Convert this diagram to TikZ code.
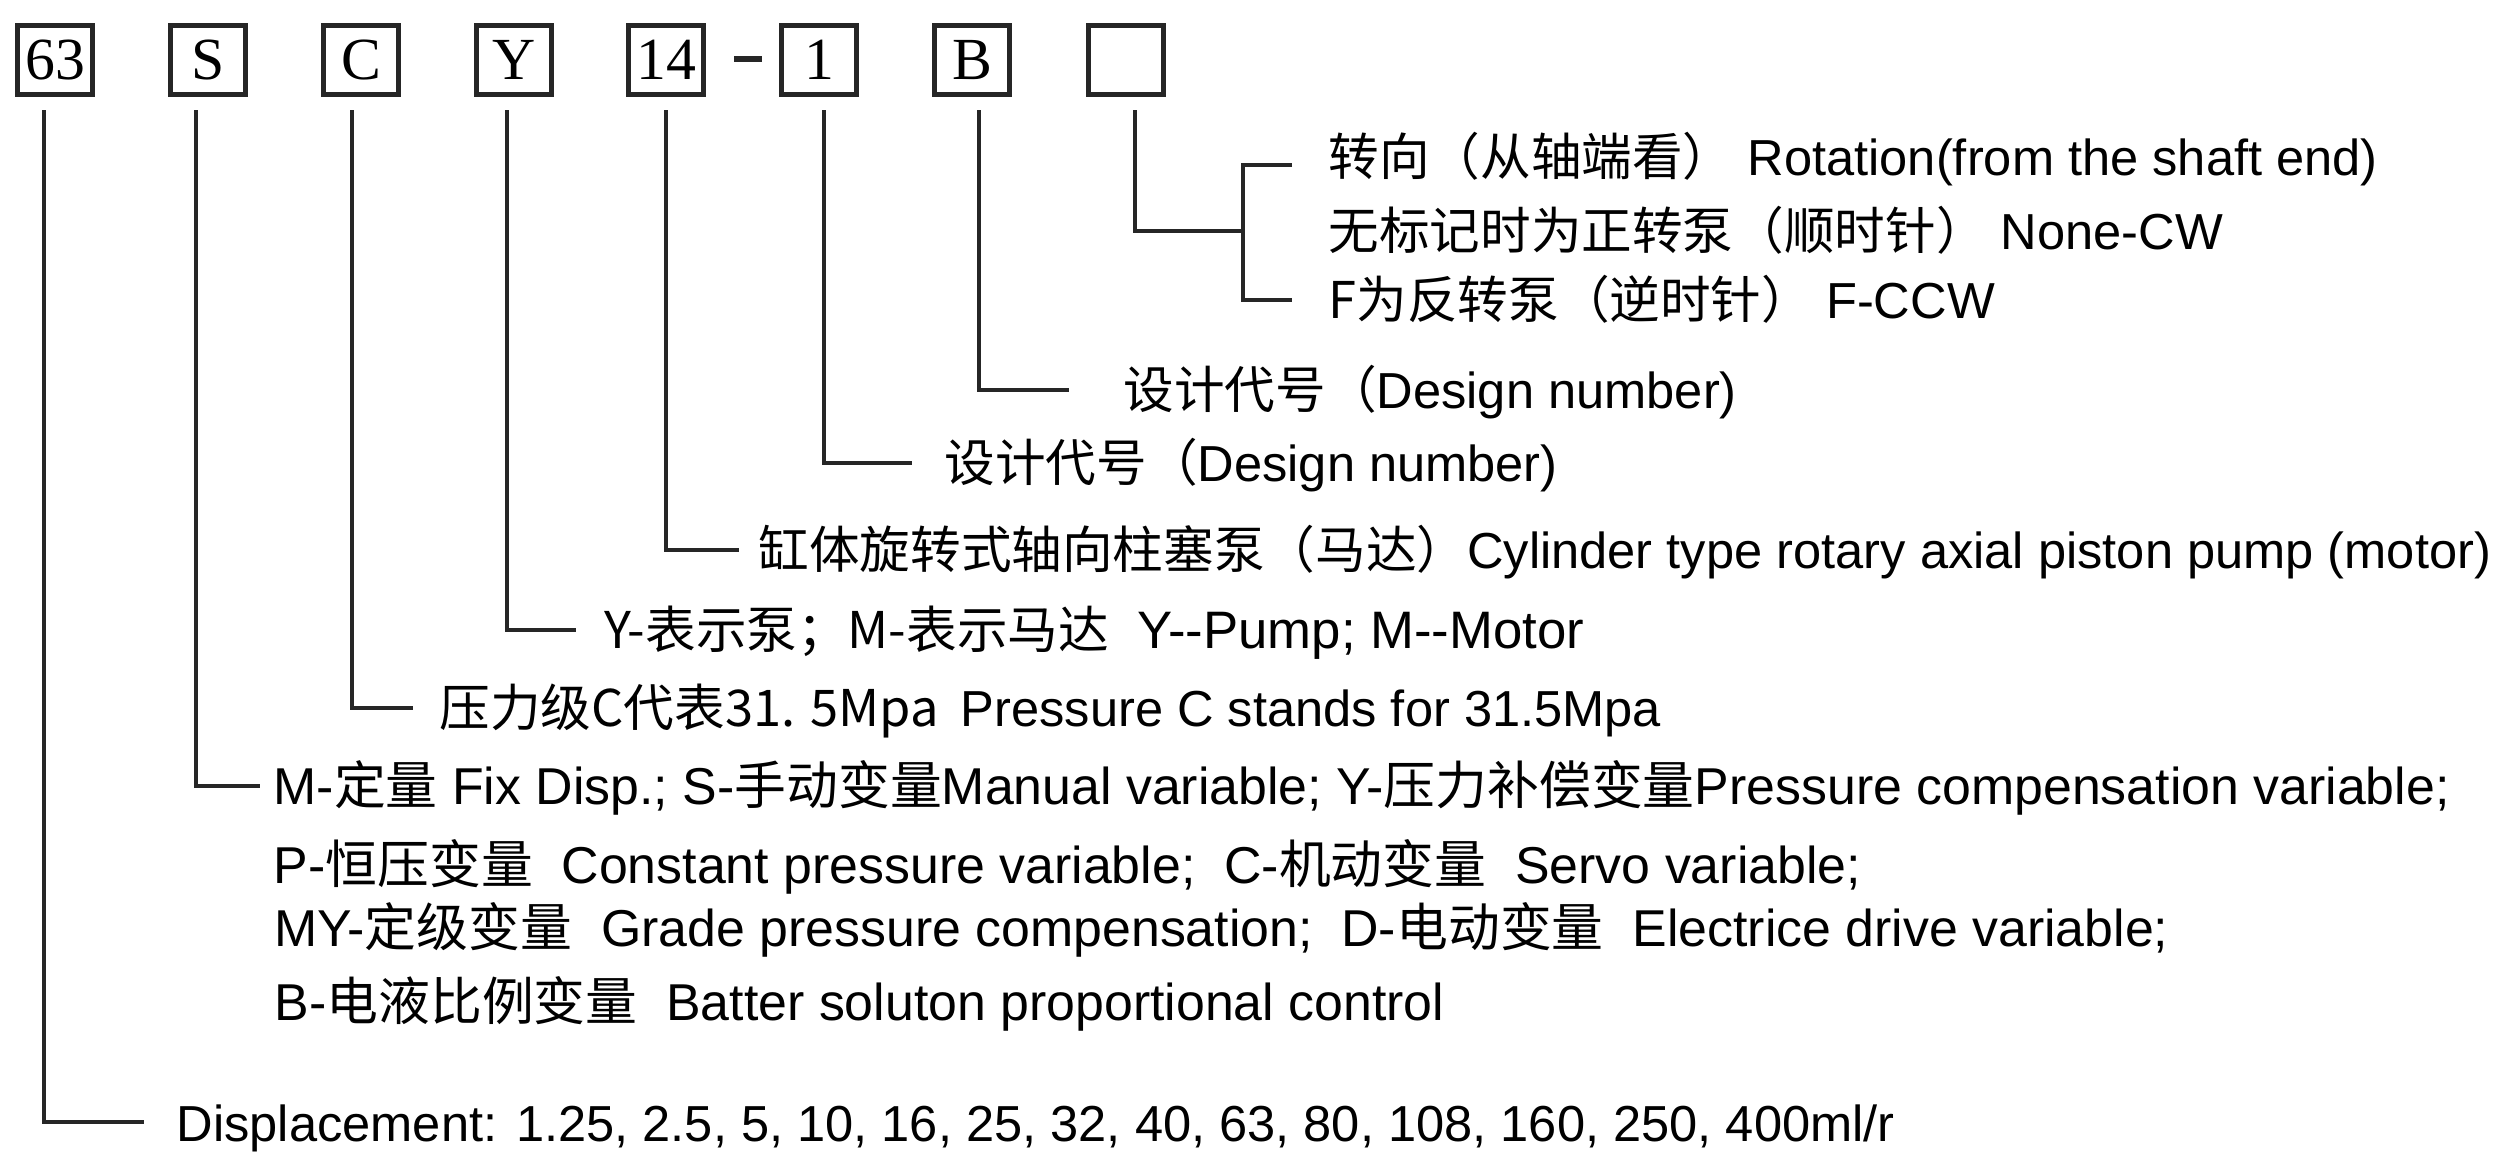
\documentclass[tikz,border=0pt]{standalone}
\usepackage{fontspec}
\setmainfont{Liberation Sans}
\newfontfamily\PMzh{Noto Sans CJK SC}
\newfontfamily\PMserif{Liberation Serif}
\definecolor{PMlinija}{HTML}{262626}
\newcommand{\zh}[1]{{\PMzh #1}}

\begin{document}
\begin{tikzpicture}[x=.1mm,y=-.1mm,font=\fontsize{14.4}{17}\selectfont,
 PMokvir/.style={draw=PMlinija,line width=1.2pt,minimum width=7.5mm,minimum height=6.9mm,inner sep=0pt,font=\PMserif\fontsize{17}{20}\selectfont},
 PMtekst/.style={anchor=west,inner sep=0pt,text height=4.4mm,text depth=.6mm},
 PMopis/.style={PMtekst,font=\fontsize{14.75}{17}\selectfont},
 PMcrta/.style={draw=PMlinija,line width=1pt}]
\useasboundingbox (0,0) rectangle (2501,1152);
\foreach \i/\x/\lab in {1/55/63,2/208/S,3/361/C,4/514/Y,5/666/14,6/819/1,7/972/B,8/1126/{}}{\node[PMokvir] (k\i) at (\x,60) {\lab};}
\draw[PMcrta,line width=1.8pt] (734,59)--(762,59);
\node[PMtekst] (t1) at (1328,157) {\zh{转向（从轴端看）} Rotation(from the shaft end)};
\node[PMtekst] (t2) at (1328,231) {\zh{无标记时为正转泵（顺时针）} None-CW};
\node[PMtekst] (t3) at (1328,300) {\zh{F为反转泵（逆时针）} F-CCW};
\node[PMtekst] (t4) at (1123,390) {\zh{设计代号（}Design number)};
\node[PMtekst] (t5) at (944,463) {\zh{设计代号（}Design number)};
\node[PMtekst] (t6) at (758,550) {\zh{缸体旋转式轴向柱塞泵（马达）}Cylinder type rotary axial piston pump (motor)};
\node[PMtekst] (t7) at (604,630) {\zh{Y-表示泵；M-表示马达}\hspace{2.9mm}{\fontsize{15}{17}\selectfont Y-{}-Pump; M-{}-Motor}};
\node[PMtekst] (t8) at (439,708) {\zh{压力级C代表31. 5Mpa}\hspace{2.2mm}Pressure C stands for 31.5Mpa};
\node[PMopis] (t9) at (273,786) {M-\zh{定量} Fix Disp.; S-\zh{手动变量}Manual variable; Y-\zh{压力补偿变量}Pressure compensation variable;};
\node[PMopis] (t10) at (273,865) {P-\zh{恒压变量}\ \ Constant pressure variable;\ \ C-\zh{机动变量}\ \ Servo variable;};
\node[PMopis] (t11) at (274,928) {MY-\zh{定级变量}\ \ Grade pressure compensation;\ \ D-\zh{电动变量}\ \ Electrice drive variable;};
\node[PMopis] (t12) at (274,1001) {B-\zh{电液比例变量}\ \ Batter soluton proportional control};
\node[PMtekst] (t13) at (176,1122) {Displacement: 1.25, 2.5, 5, 10, 16, 25, 32, 40, 63, 80, 108, 160, 250, 400ml/r};
\foreach \k/\t/\dx/\g in {1/13/-1.1/3.2,2/9/-1.2/1.3,3/8/-.9/2.6,4/7/-.7/2.8,5/6/0/1.9,6/5/.5/3.2,7/4/.7/5.4}
 {\draw[PMcrta] ([xshift=\dx mm,yshift=-1.35mm]k\k.south) |- ([xshift=-\g mm]t\t.west);}
\draw[PMcrta] ([xshift=.9mm,yshift=-1.35mm]k8.south) |- ([xshift=-8.5mm]t2.west);
\draw[PMcrta] ([xshift=-3.6mm,yshift=-.8mm]t1.west) -| ([xshift=-8.5mm]t3.west) -- ([xshift=-3.6mm]t3.west);
\end{tikzpicture}
\end{document}
